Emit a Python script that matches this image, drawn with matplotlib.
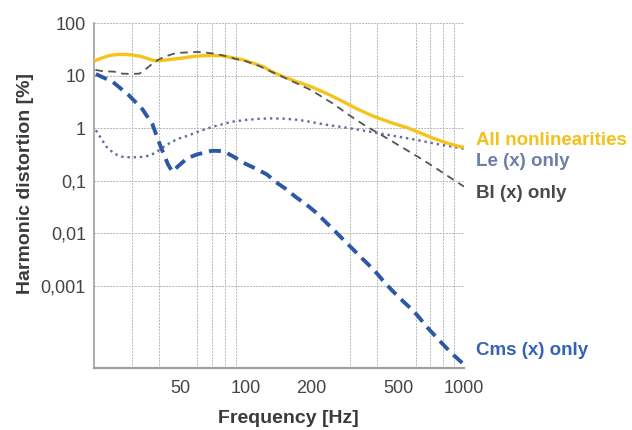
import matplotlib
matplotlib.use("Agg")
import matplotlib.pyplot as plt
from matplotlib.ticker import FixedLocator, NullFormatter

plt.rcParams['font.family'] = ['Liberation Sans', 'DejaVu Sans']

# harmonic distortion [%] vs frequency [Hz]
f_all = [20.5, 22, 24, 26, 28, 30, 33, 36, 38, 41, 45, 50, 56, 62, 70, 79, 87, 98,
         110, 121, 131, 150, 175, 200, 235, 273, 320, 385, 460, 550, 630, 722, 830, 955, 1000]
d_all = [19.5, 22, 24.5, 25.5, 25.5, 25, 23.5, 21, 19.5, 19.5, 20.5, 21.5, 23, 24, 24.5, 24, 22, 20,
         17, 14.8, 12.1, 9.5, 7.5, 6.2, 4.6, 3.4, 2.4, 1.7, 1.3, 1.03, 0.82, 0.65, 0.53, 0.45, 0.44]

f_le = [20.6, 21.5, 23, 25, 27, 30, 33, 36.6, 40, 42.3, 46, 50, 54, 60, 65, 71, 80, 87,
        100, 115, 130, 150, 175, 200, 240, 273, 330, 385, 450, 550, 650, 722, 850, 1000]
d_le = [0.92, 0.7, 0.45, 0.33, 0.29, 0.28, 0.285, 0.305, 0.38, 0.45, 0.56, 0.65, 0.72, 0.85, 0.96, 1.08, 1.23, 1.34,
        1.45, 1.52, 1.55, 1.53, 1.45, 1.32, 1.15, 1.07, 0.94, 0.84, 0.75, 0.65, 0.57, 0.52, 0.46, 0.41]

f_bl = [20.5, 22, 25, 27.3, 30, 32.6, 34.9, 37.4, 40, 43, 47, 50, 55, 60, 66, 72, 80, 90,
        100, 115, 130, 150, 175, 200, 250, 300, 350, 430, 550, 650, 777, 880, 1000]
d_bl = [13, 12.3, 12, 11, 10.9, 11, 13.5, 17, 20.5, 23.5, 26.5, 27.5, 28, 28.5, 27.5, 26.5, 24, 21,
        19, 15.5, 12.2, 9.3, 6.9, 5.3, 3.0, 1.75, 1.15, 0.70, 0.38, 0.25, 0.155, 0.11, 0.078]

f_cms = [20.6, 24.6, 29.3, 33.7, 37.4, 40.8, 44, 46.1, 49, 54, 60, 70, 79, 88, 98, 110, 125, 138,
         153, 170, 189, 210, 250, 273, 303, 331, 367, 401, 430, 469, 512, 568, 610, 677, 738, 805, 879, 977, 1000]
d_cms = [10.8, 7.7, 4.2, 2.3, 1.2, 0.45, 0.21, 0.15, 0.19, 0.27, 0.32, 0.375, 0.37, 0.29, 0.22, 0.175, 0.133, 0.094,
         0.07, 0.049, 0.036, 0.025, 0.0123, 0.0085, 0.0055, 0.0038, 0.0025, 0.0017, 0.0012, 0.00082, 0.00057, 0.00038,
         0.00028, 0.000165, 0.000112, 7.6e-5, 5.2e-5, 3.5e-5, 3.2e-5]

x_ticks = [50, 100, 200, 500, 1000]
x_grid = [30, 40, 50, 60, 70, 80, 90, 100, 200, 300, 400, 500, 600, 700, 800, 900]
y_ticks = [0.001, 0.01, 0.1, 1, 10, 100]
y_labels = ['0,001', '0,01', '0,1', '1', '10', '100']

fig = plt.figure(figsize=(6.32, 4.30), dpi=100)
ax = fig.add_axes([94 / 632, 1 - 368 / 430, 370 / 632, 344.7 / 430])

yellow = '#F5C31C'
c_le = '#5E6D9E'
c_bl = '#555555'
c_cms = '#2C58A8'

ax.plot(f_cms, d_cms, color=c_cms, lw=2.8, dashes=(3.1, 1.8), zorder=3)
ax.plot(f_le, d_le, color=c_le, lw=1.7, linestyle=':', zorder=3)
ax.plot(f_bl, d_bl, color=c_bl, lw=1.3, dashes=(4.2, 3.0), zorder=4)
ax.plot(f_all, d_all, color=yellow, lw=2.4, zorder=3)

ax.set_xscale('log')
ax.set_yscale('log')
ax.set_xlim(20.2, 1000)
ax.set_ylim(2.75e-5, 100)

ax.set_xticks(x_ticks)
ax.set_xticklabels([str(t) for t in x_ticks])
ax.xaxis.set_minor_locator(FixedLocator(x_grid))
ax.xaxis.set_minor_formatter(NullFormatter())
ax.set_yticks(y_ticks)
ax.set_yticklabels(y_labels)
ax.yaxis.set_minor_locator(FixedLocator([]))

ax.tick_params(which='both', length=0)
ax.tick_params(axis='x', pad=8.5, labelsize=13, labelcolor='#444444')
ax.tick_params(axis='y', pad=5.8, labelsize=13, labelcolor='#444444')

ax.grid(False)
ax.grid(True, which='minor', axis='x', color='#b5b5b5', lw=0.7, linestyle=(0, (2, 1.2)))
ax.grid(True, which='major', axis='y', color='#b5b5b5', lw=0.7, linestyle=(0, (2, 1.2)))

for s in ['top', 'right']:
    ax.spines[s].set_visible(False)
ax.spines['left'].set_color('#a0a0a0')
ax.spines['bottom'].set_color('#a0a0a0')
ax.spines['left'].set_linewidth(1.2)
ax.spines['bottom'].set_linewidth(1.6)

ax.set_xlabel('Frequency [Hz]', fontsize=14, fontweight='bold', color='#3a3a3a', va='top')
ax.xaxis.set_label_coords(0.524, -0.122)
ax.set_ylabel('Harmonic distortion [%]', fontsize=14, fontweight='bold', color='#3a3a3a', va='center')
ax.yaxis.set_label_coords(-0.186, 0.534)

# curve names at the right
fig.text(476 / 632, 1 - 145 / 430, 'All nonlinearities', color='#F2C21A', fontsize=13.5, fontweight='bold')
fig.text(476 / 632, 1 - 166.5 / 430, 'Le (x) only', color='#6C7FA6', fontsize=13.5, fontweight='bold')
fig.text(476 / 632, 1 - 198.5 / 430, 'Bl (x) only', color='#4a4a4a', fontsize=13.5, fontweight='bold')
fig.text(476 / 632, 1 - 355 / 430, 'Cms (x) only', color='#3562B2', fontsize=13.5, fontweight='bold')

fig.savefig('out.png', dpi=100)
